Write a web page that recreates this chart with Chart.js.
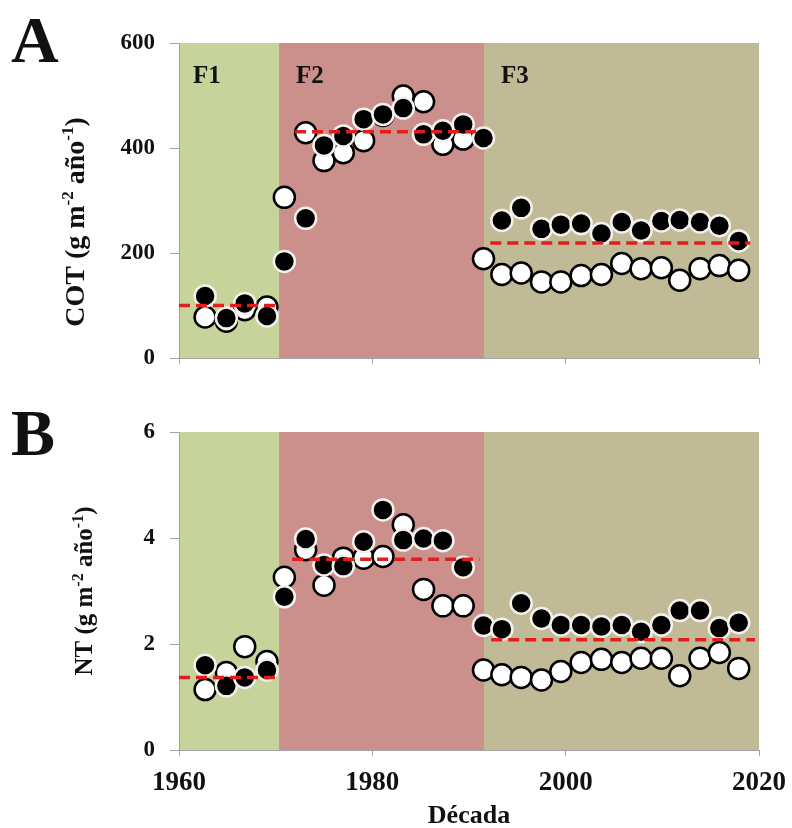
<!DOCTYPE html>
<html>
<head>
<meta charset="utf-8">
<script src="https://cdn.jsdelivr.net/npm/chart.js@4.4.1/dist/chart.umd.min.js"></script>
<style>
  html, body { margin: 0; padding: 0; background: #ffffff; }
  #wrap { position: relative; width: 792px; height: 828px; }
  canvas { position: absolute; left: 0; }
</style>
</head>
<body>
<div id="wrap">
  <canvas id="panelA" width="792" height="390" style="top:0px"></canvas>
  <canvas id="panelB" width="792" height="438" style="top:390px"></canvas>
</div>
<script>
// Sampling years (x position of each pair of markers)
const years = [1962.7, 1964.9, 1966.8, 1969.1, 1970.9, 1973.1, 1975.0, 1977.0, 1979.1, 1981.1,
               1983.2, 1985.3, 1987.3, 1989.4, 1991.5, 1993.4, 1995.4, 1997.5, 1999.5, 2001.6,
               2003.7, 2005.8, 2007.8, 2009.9, 2011.8, 2013.9, 2015.9, 2017.9];

// Phase boundaries (years) and names
const phaseEdges = [1960, 1970.35, 1991.55, 2020];
const phaseNames = ['F1', 'F2', 'F3'];

// Panel A: COT (g m-2 año-1)
const cotFilled = [118, 76, 104, 80, 184, 266, 405, 423, 455, 464, 476, 426, 433, 445, 419,
                   262, 286, 246, 254, 256, 237, 259, 243, 261, 263, 259, 252, 223];
const cotOpen   = [78, 70, 92, 97, 306, 429, 376, 391, 414, 462, 499, 488, 407, 417, 189,
                   159, 162, 145, 145, 157, 159, 180, 170, 172, 148, 170, 176, 167];
const cotMeans = [100, 431, 219];
const cotMeanStart = [1960, 1972.0, 1992.2];
const cotMeanEnd   = [1970.4, 1991.3, 2019.1];

// Panel B: NT (g m-2 año-1)
const ntFilled = [1.60, 1.21, 1.37, 1.51, 2.89, 3.98, 3.49, 3.47, 3.93, 4.53, 3.96, 3.99, 3.95, 3.45, 2.35,
                  2.28, 2.77, 2.48, 2.36, 2.36, 2.33, 2.36, 2.23, 2.36, 2.63, 2.63, 2.30, 2.40];
const ntOpen   = [1.14, 1.46, 1.95, 1.67, 3.26, 3.78, 3.11, 3.62, 3.62, 3.65, 4.25, 3.03, 2.72, 2.72, 1.51,
                  1.42, 1.37, 1.32, 1.48, 1.65, 1.71, 1.65, 1.73, 1.73, 1.40, 1.73, 1.84, 1.54];
const ntMeans = [1.37, 3.60, 2.08];
const ntMeanStart = [1960, 1971.7, 1992.3];
const ntMeanEnd   = [1970.5, 1991.1, 2019.6];

// Axis ticks
const xTicks = [1960, 1980, 2000, 2020];
const cotTicks = [0, 200, 400, 600];
const ntTicks = [0, 2, 4, 6];

const SERIF = '"Liberation Serif", "Times New Roman", "DejaVu Serif", serif';
const phaseColors = ['rgb(198,212,156)', 'rgb(203,143,140)', 'rgb(193,186,150)'];
const axisGrey = '#a3a3a3';

function pairs(xs, ys) { return xs.map((x, i) => ({ x: x, y: ys[i] })); }

function meanDatasets(means, starts, ends) {
  return means.map((m, i) => ({
    type: 'line',
    data: [{ x: starts[i], y: m }, { x: ends[i], y: m }],
    borderColor: 'rgb(226,30,28)',
    borderWidth: 3.5,
    borderDash: [11, 6],
    pointRadius: 0,
    fill: false,
    order: 0
  }));
}

// Shaded phase bands behind the plot
const phaseBands = {
  id: 'phaseBands',
  beforeDraw(chart) {
    const { ctx, chartArea, scales } = chart;
    ctx.save();
    for (let i = 0; i < phaseNames.length; i++) {
      const x0 = scales.x.getPixelForValue(phaseEdges[i]);
      const x1 = scales.x.getPixelForValue(phaseEdges[i + 1]);
      ctx.fillStyle = phaseColors[i];
      ctx.fillRect(x0, chartArea.top, x1 - x0, chartArea.bottom - chartArea.top);
    }
    ctx.restore();
  }
};

// Rotated y-axis title with superscripts
function drawYTitle(ctx, parts, cx, cy, size) {
  ctx.save();
  ctx.translate(cx, cy);
  ctx.rotate(-Math.PI / 2);
  const big = 'bold ' + size + 'px ' + SERIF;
  const small = 'bold ' + Math.round(size * 0.62) + 'px ' + SERIF;
  let total = 0;
  parts.forEach(p => { ctx.font = p.sup ? small : big; total += ctx.measureText(p.t).width; });
  let x = -total / 2;
  ctx.fillStyle = '#111';
  ctx.textBaseline = 'alphabetic';
  ctx.textAlign = 'left';
  parts.forEach(p => {
    ctx.font = p.sup ? small : big;
    ctx.fillText(p.t, x, p.sup ? -size * 0.38 : 0);
    x += ctx.measureText(p.t).width;
  });
  ctx.restore();
}

function makePanelText(letter, letterBaseline, titleParts, titleX, titleY, titleSize, showPhases) {
  return {
    id: 'panelText' + letter,
    afterDraw(chart) {
      const { ctx, chartArea, scales } = chart;
      ctx.save();
      ctx.fillStyle = '#111';
      ctx.textAlign = 'left';
      ctx.textBaseline = 'alphabetic';
      ctx.font = 'bold 66px ' + SERIF;
      ctx.fillText(letter, 11, letterBaseline);
      if (showPhases) {
        ctx.font = 'bold 25px ' + SERIF;
        for (let i = 0; i < phaseNames.length; i++) {
          const x0 = scales.x.getPixelForValue(phaseEdges[i]);
          ctx.fillText(phaseNames[i], x0 + (i === 0 ? 14 : 17), chartArea.top + 40);
        }
      }
      ctx.restore();
      drawYTitle(ctx, titleParts, titleX, titleY, titleSize);
    }
  };
}

function baseOptions(yMax, yTickList, showXLabels, xHeight) {
  return {
    responsive: false,
    animation: false,
    devicePixelRatio: 1,
    layout: { padding: { left: 0, right: 33, top: 0, bottom: 0 } },
    plugins: { legend: { display: false }, tooltip: { enabled: false } },
    scales: {
      x: {
        type: 'linear',
        min: xTicks[0],
        max: xTicks[xTicks.length - 1],
        afterBuildTicks(scale) { scale.ticks = xTicks.map(v => ({ value: v })); },
        afterFit(scale) {
          scale.height = xHeight;
          scale.paddingLeft = 0;
          scale.paddingRight = 0;
        },
        ticks: {
          display: showXLabels,
          color: '#111',
          padding: 11,
          font: { family: SERIF, size: 27, weight: 'bold' },
          maxRotation: 0,
          callback: v => String(v)
        },
        grid: { drawOnChartArea: false, drawTicks: true, tickLength: 6, color: axisGrey, lineWidth: 1 },
        border: { display: true, color: axisGrey, width: 1 }
      },
      y: {
        type: 'linear',
        min: 0,
        max: yMax,
        afterBuildTicks(scale) { scale.ticks = yTickList.map(v => ({ value: v })); },
        afterFit(scale) {
          scale.width = 179;
          scale.paddingTop = 0;
          scale.paddingBottom = 0;
        },
        ticks: {
          color: '#111',
          padding: 15,
          font: { family: SERIF, size: 23, weight: 'bold' },
          callback: v => String(v)
        },
        grid: { drawOnChartArea: false, drawTicks: true, tickLength: 9, color: axisGrey, lineWidth: 1 },
        border: { display: true, color: axisGrey, width: 1 }
      }
    }
  };
}

function markerSets(filled, open) {
  return [
    {
      type: 'scatter',
      data: pairs(years, filled),
      pointRadius: 10.5,
      pointBackgroundColor: '#000000',
      pointBorderColor: '#f4f0ec',
      pointBorderWidth: 2.5,
      order: 1
    },
    {
      type: 'scatter',
      data: pairs(years, open),
      pointRadius: 10.5,
      pointBackgroundColor: '#ffffff',
      pointBorderColor: '#000000',
      pointBorderWidth: 2.5,
      order: 2
    }
  ];
}

// Panel A
const optA = baseOptions(600, cotTicks, false, 32);
optA.layout.padding.top = 43;
new Chart(document.getElementById('panelA'), {
  type: 'scatter',
  data: { datasets: markerSets(cotFilled, cotOpen).concat(meanDatasets(cotMeans, cotMeanStart, cotMeanEnd)) },
  options: optA,
  plugins: [phaseBands, makePanelText('A', 62,
    [{ t: 'COT (g m' }, { t: '-2', sup: true }, { t: ' año' }, { t: '-1', sup: true }, { t: ')' }],
    84, 222, 28, true)]
});

// Panel B
const optB = baseOptions(6, ntTicks, true, 78);
optB.layout.padding.top = 42;
optB.scales.x.title = {
  display: true,
  text: 'Década',
  color: '#111',
  font: { family: SERIF, size: 26, weight: 'bold', lineHeight: 0.8 },
  padding: { top: 0, bottom: 1 }
};
new Chart(document.getElementById('panelB'), {
  type: 'scatter',
  data: { datasets: markerSets(ntFilled, ntOpen).concat(meanDatasets(ntMeans, ntMeanStart, ntMeanEnd)) },
  options: optB,
  plugins: [phaseBands, makePanelText('B', 65,
    [{ t: 'NT (g m' }, { t: '-2', sup: true }, { t: ' año' }, { t: '-1', sup: true }, { t: ')' }],
    92, 201, 25, false)]
});
</script>
</body>
</html>
